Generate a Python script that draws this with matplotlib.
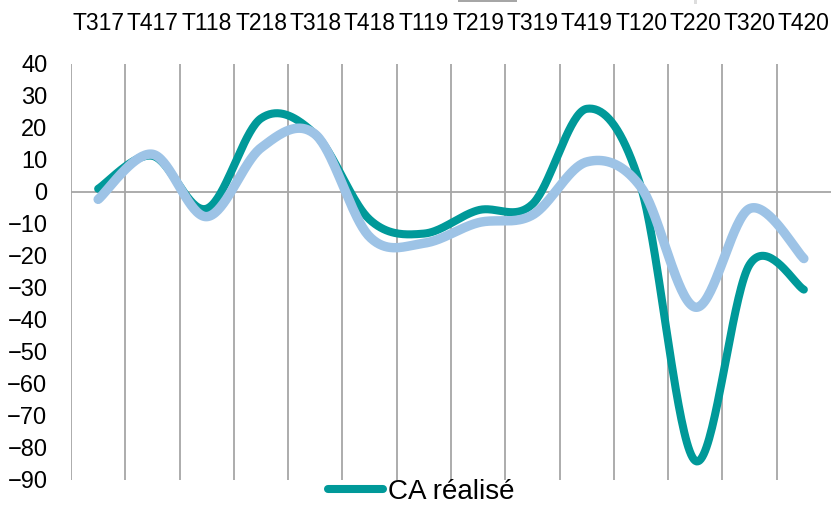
import matplotlib.pyplot as plt
from matplotlib.lines import Line2D
from matplotlib.patches import Rectangle
import numpy as np

quarters = ["T317", "T417", "T118", "T218", "T318", "T418", "T119",
            "T219", "T319", "T419", "T120", "T220", "T320", "T420"]
ca_realise = [1, 11.3, -5.2, 23, 18, -8.6, -13, -5.7, -3.8, 26, 1.5, -84, -22.7, -30.5]
ca_second = [-2.3, 11.8, -7.7, 13.8, 18, -14, -16, -9.6, -7.2, 9.4, 1.5, -36, -5.2, -20.8]

teal = "#009999"
light_blue = "#9dc3e6"
grid_grey = "#a6a6a6"


def smooth(y, n=40):
    # excel-like smoothed line (bezier through the points)
    y = np.asarray(y, dtype=float)
    x = np.arange(len(y), dtype=float)
    xp = np.concatenate([[x[0]], x, [x[-1]]])
    yp = np.concatenate([[y[0]], y, [y[-1]]])
    xs, ys = [], []
    for i in range(len(y) - 1):
        p0, p1, p2, p3 = (np.array([xp[i + k], yp[i + k]]) for k in range(4))
        c1 = p1 + (p2 - p0) / 6
        c2 = p2 - (p3 - p1) / 6
        t = np.linspace(0, 1, n)[:, None]
        b = ((1 - t) ** 3) * p1 + 3 * ((1 - t) ** 2) * t * c1 \
            + 3 * (1 - t) * t ** 2 * c2 + t ** 3 * p2
        xs.append(b[:, 0])
        ys.append(b[:, 1])
    return np.concatenate(xs), np.concatenate(ys)


fig = plt.figure(figsize=(8.31, 5.07), dpi=100)
ax = fig.add_axes([71 / 831, 1 - 480 / 507, 1 - 71 / 831, 416 / 507])

sx, sy = smooth(ca_realise)
ax.plot(sx, sy, color=teal, lw=5.8, solid_capstyle="round", zorder=3)
bx, by = smooth(ca_second)
ax.plot(bx, by, color=light_blue, lw=6.8, solid_capstyle="round", zorder=4)

ax.set_xlim(-0.5, len(quarters) - 0.5)
ax.set_ylim(-90, 40)
ax.set_yticks(np.arange(-90, 41, 10))

for xb in np.arange(-0.5, len(quarters) - 1, 1):
    ax.axvline(xb, color=grid_grey, lw=1.3, zorder=1)
ax.axhline(0, color=grid_grey, lw=1.3, zorder=1)

for s in ax.spines.values():
    s.set_visible(False)

lab_font = ["Liberation Sans", "DejaVu Sans"]
ax.xaxis.tick_top()
ax.set_xticks(range(len(quarters)))
ax.set_xticklabels(quarters, fontsize=16.5, family=lab_font)
ax.tick_params(axis="x", length=0, pad=21)
ax.tick_params(axis="y", length=0, pad=17)
for t in ax.get_yticklabels():
    t.set_fontsize(17)
    t.set_family(lab_font)

# bits of a cut-off legend at the top edge
fig.add_artist(Rectangle((458 / 831, 1 - 2 / 507), 59 / 831, 2 / 507,
                         color="#a6a6a6", lw=0, transform=fig.transFigure))
fig.add_artist(Rectangle((694 / 831, 1 - 4 / 507), 3 / 831, 4 / 507,
                         color="#dddddd", lw=0, transform=fig.transFigure))

handle = Line2D([], [], color=teal, lw=5.8, solid_capstyle="round")
fig.legend([handle], ["CA réalisé"], loc="center", bbox_to_anchor=(421 / 831, 1 - 492 / 507),
           frameon=False, prop={"family": lab_font, "size": 20},
           handlelength=2.0, handletextpad=0.15, borderpad=0, borderaxespad=0)

fig.savefig("out.png", dpi=100)
